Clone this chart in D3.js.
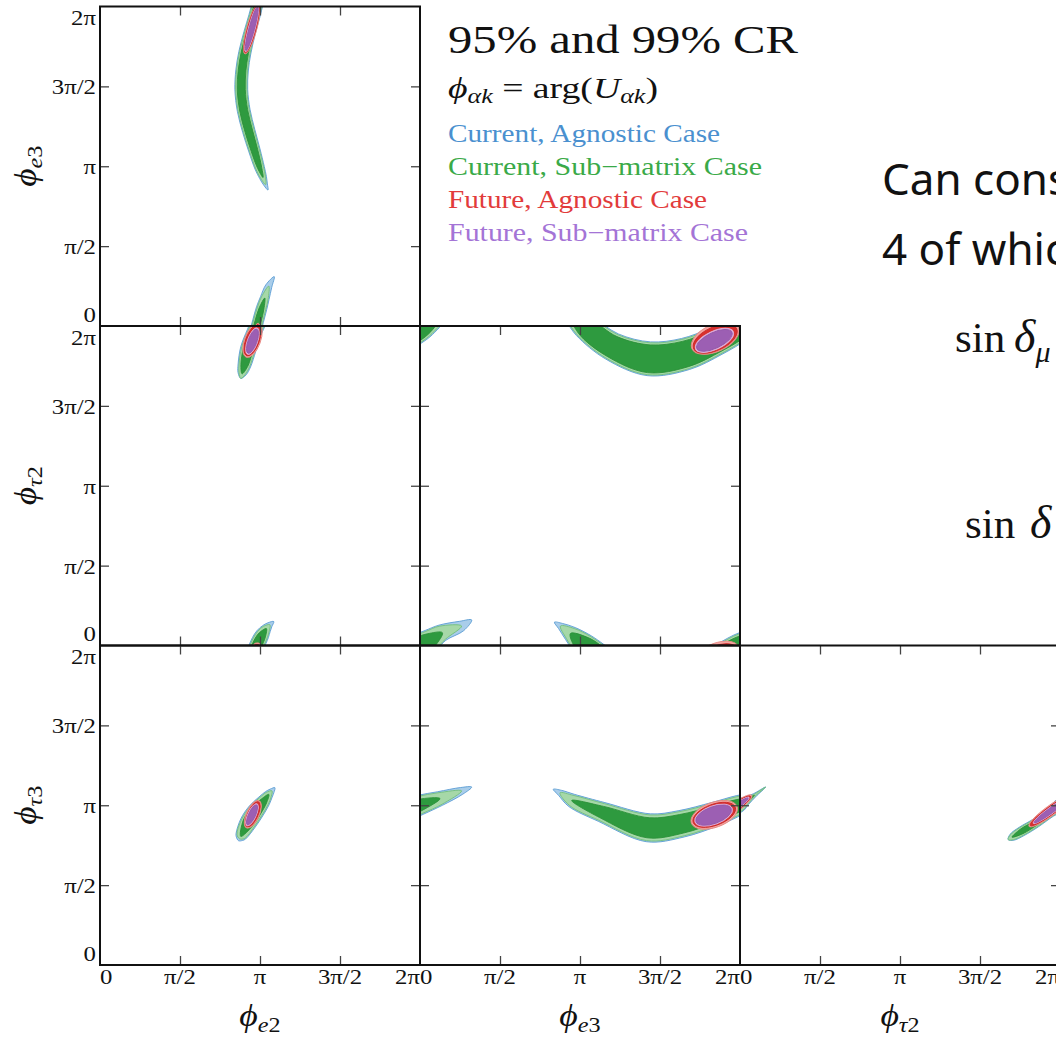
<!DOCTYPE html>
<html>
<head>
<meta charset="utf-8">
<script src="https://cdn.jsdelivr.net/npm/d3@7"></script>
<style>
  html, body { margin: 0; padding: 0; background: #fff; overflow: hidden; }
  svg { display: block; }
</style>
</head>
<body>
<svg id="chart" width="1056" height="1037"></svg>
<script>
// ---- axis ticks (values in units of π) ----
const tickValues = [0, 0.5, 1, 1.5, 2];
const tickLabels = ["0", "π/2", "π", "3π/2", "2π"];

// ---- phases shown on each axis: [flavour, mass index] ----
const colVars = [["e", "2"], ["e", "3"], ["τ", "2"]];
const rowVars = [["e", "3"], ["τ", "2"], ["τ", "3"]];

// ---- current-data credible regions ----
// Each row is a point along the ridge of the region:
// [φx/π, φy/π, half-width Current Agnostic 99%, Current Sub-matrix 99%, Current Sub-matrix 95%]
// half-widths in units of π; null = that region does not reach this point.
const bandE3vsE2 = [
  [1.050, 0.851, 0, null, null],
  [1.035, 0.885, 0.012, 0, null],
  [1.019, 0.930, 0.022, 0.016, 0],
  [0.998, 0.990, 0.030, 0.025, 0.013],
  [0.965, 1.100, 0.036, 0.031, 0.021],
  [0.930, 1.220, 0.039, 0.034, 0.024],
  [0.898, 1.350, 0.040, 0.035, 0.025],
  [0.883, 1.480, 0.040, 0.035, 0.025],
  [0.888, 1.600, 0.039, 0.034, 0.024],
  [0.905, 1.710, 0.038, 0.033, 0.023],
  [0.935, 1.835, 0.036, 0.031, 0.021],
  [0.965, 1.940, 0.035, 0.030, 0.020],
  [0.988, 2.030, 0.034, 0.029, 0.019],
  [1.010, 2.111, 0.033, 0.027, 0.015],
  [1.030, 2.175, 0.028, 0.022, 0],
  [1.055, 2.250, 0.020, 0, null],
  [1.089, 2.309, 0, null, null]
];
const bandT2vsE2 = [
  [0.880, 1.672, 0, 0, null],
  [0.888, 1.701, 0.026, 0.020, 0],
  [0.902, 1.753, 0.040, 0.034, 0.022],
  [0.927, 1.857, 0.049, 0.043, 0.031],
  [0.964, 1.961, 0.046, 0.040, 0.029],
  [0.995, 2.031, 0.046, 0.040, 0.029],
  [1.016, 2.070, 0.042, 0.036, 0.022],
  [1.040, 2.106, 0.030, 0.023, 0],
  [1.062, 2.130, 0.017, 0, null],
  [1.086, 2.150, 0, null, null]
];
const bandT3vsE2 = [
  [0.866, 0.778, 0, null, null],
  [0.872, 0.790, 0.022, 0, null],
  [0.880, 0.805, 0.034, 0.027, 0],
  [0.925, 0.889, 0.052, 0.046, 0.034],
  [0.975, 0.964, 0.052, 0.046, 0.034],
  [1.025, 1.027, 0.040, 0.034, 0.020],
  [1.055, 1.068, 0.027, 0.020, 0],
  [1.075, 1.090, 0.016, 0, null],
  [1.093, 1.110, 0, null, null]
];
const bandT2vsE3 = [
  [0.840, 2.146, 0, null, null],
  [0.878, 2.122, 0.020, 0, null],
  [0.940, 2.075, 0.048, 0.040, 0],
  [1.025, 2.000, 0.076, 0.070, 0.057],
  [1.200, 1.872, 0.088, 0.082, 0.069],
  [1.430, 1.795, 0.106, 0.100, 0.087],
  [1.660, 1.825, 0.100, 0.094, 0.081],
  [1.850, 1.905, 0.090, 0.084, 0.071],
  [2.000, 1.990, 0.085, 0.079, 0.066],
  [2.070, 2.035, 0.070, 0.063, 0.045],
  [2.140, 2.080, 0.052, 0.045, 0],
  [2.260, 2.122, 0.032, 0, null],
  [2.323, 2.160, 0, null, null]
];
const bandT3vsE3 = [
  [0.833, 1.100, 0, null, null],
  [0.875, 1.078, 0.018, 0, null],
  [0.948, 1.030, 0.042, 0.034, 0],
  [1.135, 0.958, 0.062, 0.055, 0.037],
  [1.427, 0.859, 0.088, 0.081, 0.063],
  [1.635, 0.884, 0.084, 0.077, 0.059],
  [1.844, 0.945, 0.075, 0.068, 0.050],
  [2.000, 1.002, 0.062, 0.055, 0.037],
  [2.125, 1.042, 0.045, 0.038, 0],
  [2.260, 1.090, 0.022, 0, null],
  [2.323, 1.114, 0, null, null]
];
const bandT3vsT2 = [
  [1.676, 0.785, 0, 0, null],
  [1.700, 0.800, 0.022, 0.018, 0],
  [1.760, 0.836, 0.030, 0.026, 0.016],
  [1.850, 0.890, 0.029, 0.025, 0.015],
  [1.940, 0.955, 0.030, 0.026, 0.016],
  [2.000, 1.000, 0.040, 0.035, 0.022],
  [2.040, 1.028, 0.026, 0.021, 0.009],
  [2.090, 1.062, 0.012, 0.007, 0],
  [2.160, 1.114, 0, 0, null]
];

// ---- future-data credible regions ----
// [region, centre φx/π, centre φy/π, semi-major/π, semi-minor/π, tilt (deg)]
const futureE3vsE2 = [
  ["agn99", 0.948, 1.860, 0.162, 0.031, 75],
  ["agn95", 0.948, 1.860, 0.155, 0.026, 75],
  ["sub99", 0.948, 1.860, 0.148, 0.021, 75],
  ["sub95", 0.948, 1.860, 0.140, 0.017, 75]
];
const futureT2vsE2 = [
  ["agn99", 0.953, 1.910, 0.112, 0.050, 70],
  ["agn95", 0.953, 1.910, 0.102, 0.042, 70],
  ["sub99", 0.953, 1.905, 0.088, 0.032, 70],
  ["sub95", 0.953, 1.905, 0.080, 0.027, 70]
];
const futureT3vsE2 = [
  ["agn99", 0.955, 0.943, 0.093, 0.040, 65],
  ["agn95", 0.955, 0.943, 0.085, 0.032, 65],
  ["sub99", 0.950, 0.940, 0.075, 0.026, 65],
  ["sub95", 0.950, 0.940, 0.068, 0.021, 65]
];
const futureT2vsE3 = [
  ["agn99", 1.845, 1.925, 0.160, 0.085, 25],
  ["agn95", 1.845, 1.920, 0.148, 0.073, 25],
  ["sub99", 1.840, 1.910, 0.130, 0.057, 25],
  ["sub95", 1.840, 1.910, 0.121, 0.049, 25]
];
const futureT3vsE3 = [
  ["agn99", 1.839, 0.940, 0.152, 0.078, 20],
  ["agn95", 1.839, 0.940, 0.140, 0.066, 20],
  ["sub99", 1.835, 0.938, 0.124, 0.058, 20],
  ["sub95", 1.835, 0.938, 0.117, 0.052, 20]
];
const futureT3vsT2 = [
  ["agn99", 1.940, 0.965, 0.165, 0.032, 36],
  ["agn95", 1.940, 0.965, 0.155, 0.025, 36],
  ["sub99", 1.945, 0.968, 0.138, 0.020, 36],
  ["sub95", 1.945, 0.968, 0.130, 0.016, 36]
];

// ---- legend text ----
const titleText = "95% and 99% CR";
const caseNames = [
  "Current, Agnostic Case",
  "Current, Sub\u2212matrix Case",
  "Future, Agnostic Case",
  "Future, Sub\u2212matrix Case"
];

// ---- layout & styles ----
const PANEL_LEFT = 100, PANEL_TOP = 6.5, PANEL_W = 320, PANEL_H = 319.5;
const SERIF = "'Liberation Serif', 'DejaVu Serif', serif";
const TICK_LEN = 9;

const bandLayers = [
  { col: 2, fill: "#a9cdea", stroke: "#5b9dd4" },
  { col: 3, fill: "#a6d8a8", stroke: "#72c07a" },
  { col: 4, fill: "#2e9a3f", stroke: "#2b9139" }
];
const ellipseLayers = [
  { key: "agn99", fill: "#f2a5a1", stroke: "#e78883" },
  { key: "agn95", fill: "#d8302e", stroke: "#cc2a2a" },
  { key: "sub99", fill: "#e8bde2", stroke: "#dcaad6" },
  { key: "sub95", fill: "#9c5fb3", stroke: "#9459ab" }
];
const caseColors = ["#4a90cf", "#3aaa48", "#e23b3b", "#a474d6"];

const panels = [
  { r: 0, c: 0, bands: [bandE3vsE2], future: futureE3vsE2 },
  { r: 1, c: 0, bands: [bandT2vsE2], future: futureT2vsE2 },
  { r: 1, c: 1, bands: [bandT2vsE3], future: futureT2vsE3 },
  { r: 2, c: 0, bands: [bandT3vsE2], future: futureT3vsE2 },
  { r: 2, c: 1, bands: [bandT3vsE3], future: futureT3vsE3 },
  { r: 2, c: 2, bands: [bandT3vsT2], future: futureT3vsT2 }
];

const svg = d3.select("#chart");
const defs = svg.append("defs");
const contourLayer = svg.append("g");
const axisLayer = svg.append("g");

// widen serif text to the proportions of a TeX-style face
function widen(sel, k = 1.2) {
  sel.each(function () {
    const len = this.getComputedTextLength();
    d3.select(this).attr("textLength", len * k).attr("lengthAdjust", "spacingAndGlyphs");
  });
}

// outline of a ridge-shaped region for one level column
const closedCurve = d3.line().curve(d3.curveCatmullRomClosed.alpha(0.5));
function bandPath(band, col, sx, sy, unit) {
  const pts = band.map(r => [sx(r[0]), sy(r[1])]);
  const left = [], right = [];
  band.forEach((row, i) => {
    if (row[col] == null) return;
    const a = pts[Math.max(0, i - 1)], b = pts[Math.min(pts.length - 1, i + 1)];
    let dx = b[0] - a[0], dy = b[1] - a[1];
    const len = Math.hypot(dx, dy) || 1;
    dx /= len; dy /= len;
    const w = row[col] * unit;
    if (w === 0) { left.push(pts[i]); return; }
    left.push([pts[i][0] - dy * w, pts[i][1] + dx * w]);
    right.push([pts[i][0] + dy * w, pts[i][1] - dx * w]);
  });
  const poly = left.concat(right.reverse());
  return poly.length > 2 ? closedCurve(poly) : null;
}

const shifts = [-2, 0, 2];   // phases are periodic: draw neighbouring copies

panels.forEach(p => {
  const x0 = PANEL_LEFT + p.c * PANEL_W;
  const y0 = PANEL_TOP + p.r * PANEL_H;
  const x = d3.scaleLinear().domain([0, 2]).range([x0, x0 + PANEL_W]);
  const y = d3.scaleLinear().domain([0, 2]).range([y0 + PANEL_H, y0]);
  const unit = x(1) - x(0);

  const clipId = `clip-${p.r}-${p.c}`;
  defs.append("clipPath").attr("id", clipId)
    .append("rect").attr("x", x0).attr("y", y0).attr("width", PANEL_W).attr("height", PANEL_H);
  const g = contourLayer.append("g").attr("clip-path", `url(#${clipId})`);

  bandLayers.forEach(layer => {
    p.bands.forEach(band => {
      shifts.forEach(ox => shifts.forEach(oy => {
        const d = bandPath(band, layer.col, v => x(v + ox), v => y(v + oy), unit);
        if (d) g.append("path").attr("d", d)
          .attr("fill", layer.fill).attr("stroke", layer.stroke).attr("stroke-width", 0.9);
      }));
    });
  });

  ellipseLayers.forEach(layer => {
    p.future.filter(e => e[0] === layer.key).forEach(e => {
      shifts.forEach(ox => shifts.forEach(oy => {
        const cx = x(e[1] + ox), cy = y(e[2] + oy);
        g.append("ellipse")
          .attr("cx", cx).attr("cy", cy)
          .attr("rx", e[3] * unit).attr("ry", e[4] * unit)
          .attr("transform", `rotate(${-e[5]} ${cx} ${cy})`)
          .attr("fill", layer.fill).attr("stroke", layer.stroke).attr("stroke-width", 0.9);
      }));
    });
  });

  // inward ticks on all four sides
  const inner = tickValues.slice(1, -1);
  const axes = [
    [d3.axisBottom(x), `translate(0,${y0 + PANEL_H})`],
    [d3.axisTop(x), `translate(0,${y0})`],
    [d3.axisLeft(y), `translate(${x0},0)`],
    [d3.axisRight(y), `translate(${x0 + PANEL_W},0)`]
  ];
  axes.forEach(([ax, tr]) => {
    const ag = axisLayer.append("g").attr("transform", tr).attr("color", "#444")
      .call(ax.tickValues(inner).tickSize(-TICK_LEN).tickFormat(""));
    ag.select(".domain").remove();
    ag.selectAll("line").attr("stroke-width", 1.3);
  });

  // frame
  axisLayer.append("rect")
    .attr("x", x0).attr("y", y0).attr("width", PANEL_W).attr("height", PANEL_H)
    .attr("fill", "none").attr("stroke", "#111").attr("stroke-width", 2);

  // tick labels on outer edges
  if (p.r === 2) {
    tickValues.forEach((v, i) => {
      const t = axisLayer.append("text")
        .attr("x", x(v)).attr("y", y0 + PANEL_H + 19)
        .attr("text-anchor", i === 0 ? "start" : i === tickValues.length - 1 ? "end" : "middle")
        .attr("font-family", SERIF).attr("font-size", 21).attr("fill", "#111")
        .text(tickLabels[i]);
      widen(t, 1.18);
    });
    const [fl, idx] = colVars[p.c];
    const t = axisLayer.append("text")
      .attr("x", x(1)).attr("y", 1026)
      .attr("text-anchor", "middle").attr("font-family", SERIF).attr("fill", "#111");
    t.append("tspan").attr("font-size", 31).attr("font-style", "italic").text("\u03D5");
    t.append("tspan").attr("font-size", 21).attr("font-style", "italic").attr("dy", 6).text(fl);
    t.append("tspan").attr("font-size", 21).text(idx);
    widen(t, 1.15);
  }
  if (p.c === 0) {
    tickValues.forEach((v, i) => {
      const base = i === 0 ? y(v) - 4.5 : i === tickValues.length - 1 ? y(v) + 18.5 : y(v) + 8;
      const t = axisLayer.append("text")
        .attr("x", x0 - 4).attr("y", base)
        .attr("text-anchor", "end")
        .attr("font-family", SERIF).attr("font-size", 21).attr("fill", "#111")
        .text(tickLabels[i]);
      widen(t, 1.18);
    });
    const [fl, idx] = rowVars[p.r];
    const t = axisLayer.append("text")
      .attr("transform", `translate(36,${y(1)}) rotate(-90)`)
      .attr("text-anchor", "middle").attr("font-family", SERIF).attr("fill", "#111");
    t.append("tspan").attr("font-size", 31).attr("font-style", "italic").text("\u03D5");
    t.append("tspan").attr("font-size", 21).attr("font-style", "italic").attr("dy", 6).text(fl);
    t.append("tspan").attr("font-size", 21).text(idx);
    widen(t, 1.15);
  }
});

// ---- legend block ----
const legend = svg.append("g").attr("font-family", SERIF);
legend.append("text").attr("x", 448).attr("y", 53)
  .attr("font-size", 41).attr("fill", "#111").text(titleText)
  .attr("textLength", 350).attr("lengthAdjust", "spacingAndGlyphs");

const formula = legend.append("text").attr("x", 448).attr("y", 98).attr("fill", "#111");
formula.append("tspan").attr("font-size", 29).attr("font-style", "italic").text("\u03D5");
formula.append("tspan").attr("font-size", 20).attr("font-style", "italic").attr("dy", 5).text("αk");
formula.append("tspan").attr("font-size", 29).attr("dy", -5).text(" = arg(");
formula.append("tspan").attr("font-size", 29).attr("font-style", "italic").text("U");
formula.append("tspan").attr("font-size", 20).attr("font-style", "italic").attr("dy", 5).text("αk");
formula.append("tspan").attr("font-size", 29).attr("dy", -5).text(")");
formula.attr("textLength", 210).attr("lengthAdjust", "spacingAndGlyphs");

const caseWidths = [272, 314, 259, 300];
const caseBase = [141.5, 175, 208.3, 240.7];
caseNames.forEach((name, i) => {
  legend.append("text").attr("x", 448).attr("y", caseBase[i])
    .attr("font-size", 25).attr("fill", caseColors[i])
    .attr("textLength", caseWidths[i]).attr("lengthAdjust", "spacingAndGlyphs")
    .text(name);
});

// ---- accompanying slide text at the right edge ----
const side = svg.append("g").attr("fill", "#111");
side.append("text").attr("x", 882).attr("y", 195)
  .attr("font-family", "'Noto Sans', 'Open Sans', sans-serif").attr("font-size", 44).text("Can cons");
side.append("text").attr("x", 882).attr("y", 265)
  .attr("font-family", "'Noto Sans', 'Open Sans', sans-serif").attr("font-size", 44).text("4 of whic");
const s1 = side.append("text").attr("x", 955).attr("y", 352)
  .attr("font-family", SERIF).attr("font-size", 43);
s1.append("tspan").text("sin");
s1.append("tspan").attr("x", 1014).attr("font-size", 46).attr("font-style", "italic").text("δ");
s1.append("tspan").attr("font-size", 30).attr("font-style", "italic").attr("dy", 10).text("μ");
const s2 = side.append("text").attr("x", 965).attr("y", 538)
  .attr("font-family", SERIF).attr("font-size", 43);
s2.append("tspan").text("sin");
s2.append("tspan").attr("x", 1030).attr("font-size", 46).attr("font-style", "italic").text("δ");
</script>
</body>
</html>
